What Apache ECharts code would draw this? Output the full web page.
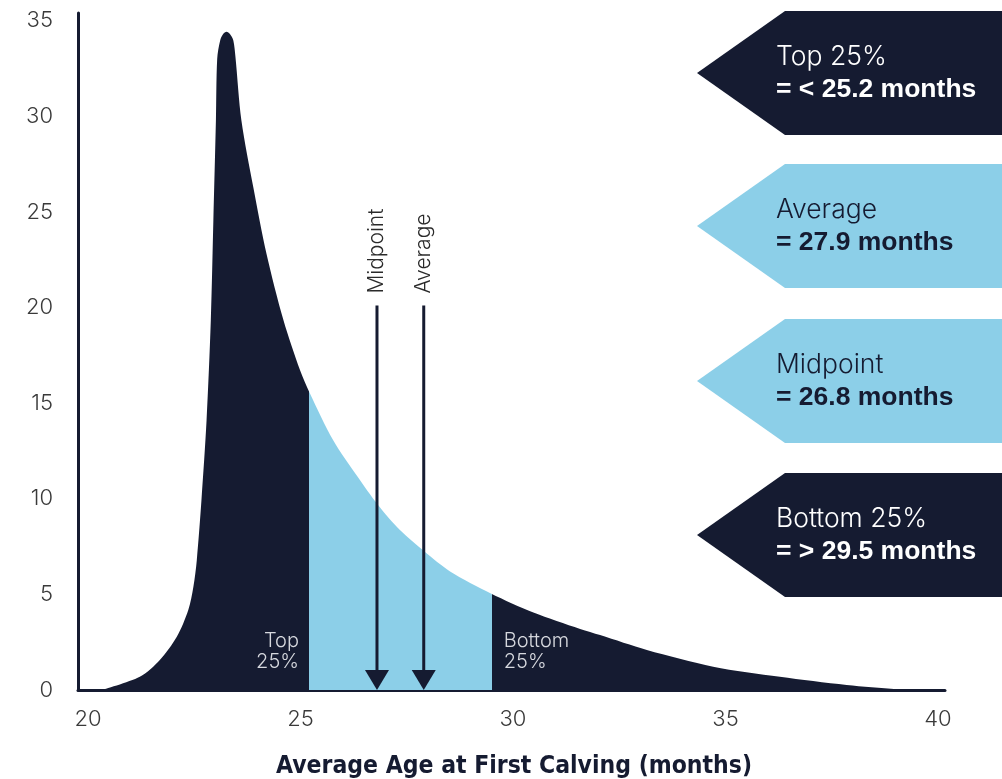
<!DOCTYPE html>
<html>
<head>
<meta charset="utf-8">
<script src="https://cdn.jsdelivr.net/npm/echarts@6/dist/echarts.min.js"></script>
<style>
html,body{margin:0;padding:0;background:#fff;}
#chart{width:1002px;height:779px;}
</style>
</head>
<body>
<div id="chart"></div>
<script>
// ---- data ----
const ageMonths = [20.32, 21.22, 21.69, 22.09, 22.36, 22.48, 22.56, 22.67, 22.79, 22.89, 22.95, 23.01, 23.04, 23.11, 23.18, 23.26, 23.34, 23.42, 23.47, 23.61, 23.89, 24.20, 24.60, 24.99, 25.22, 25.77, 26.32, 26.83, 27.34, 27.91, 28.52, 29.48, 30.48, 31.58, 32.05, 33.15, 34.71, 36.28, 37.85, 39.03, 39.6];
const frequency = [0, 0.69, 1.57, 2.78, 4.18, 5.40, 6.79, 9.93, 14.10, 19.33, 24.55, 29.78, 33.0, 33.96, 34.3, 34.42, 34.3, 33.96, 33.1, 29.78, 26.29, 22.81, 19.33, 16.72, 15.52, 13.06, 11.23, 9.66, 8.36, 7.25, 6.2, 5.05, 4.05, 3.19, 2.87, 2.09, 1.22, 0.69, 0.26, 0.04, 0];
const top25Cut = 25.2;
const bottom25Cut = 29.5;
const markerNames = ['Midpoint', 'Average'];
const markerValues = [26.8, 27.9];
const markerTop = 20.1;
const xTickLabels = [20, 25, 30, 35, 40];
const yTickLabels = [0, 5, 10, 15, 20, 25, 30, 35];
const bandLabels = ['Top\n25%', 'Bottom\n25%'];
const boxTitles = ['Top 25%', 'Average', 'Midpoint', 'Bottom 25%'];
const boxValues = ['= < 25.2 months', '= 27.9 months', '= 26.8 months', '= > 29.5 months'];
const boxDark = [true, false, false, true];
const xAxisTitle = 'Average Age at First Calving (months)';

const NAVY = '#151b31';
const BLUE = '#8ccfe8';
const LIGHT_FONT = 'Inter, "Open Sans", "Liberation Sans", sans-serif';
const BOLD_FONT = '"Liberation Sans", Arial, sans-serif';

const curve = ageMonths.map((x, i) => [x, frequency[i]]);

// annotation boxes (pentagon arrows on the right)
const boxTops = [11, 164, 319, 473];
const boxH = 124;
const graphics = [];
boxTops.forEach((t, i) => {
  const c = t + boxH / 2;
  graphics.push({
    type: 'polygon',
    shape: {points: [[697, c], [785, t], [1002, t], [1002, t + boxH], [785, t + boxH]]},
    style: {fill: boxDark[i] ? NAVY : BLUE}
  });
  graphics.push({
    type: 'text', x: 776, y: c - 16,
    style: {text: boxTitles[i], fill: boxDark[i] ? '#ffffff' : NAVY, font: '300 26.5px ' + LIGHT_FONT, verticalAlign: 'middle', align: 'left'}
  });
  graphics.push({
    type: 'text', x: 776, y: c + 17,
    style: {text: boxValues[i], fill: boxDark[i] ? '#ffffff' : NAVY, font: 'bold 26.5px ' + BOLD_FONT, verticalAlign: 'middle', align: 'left'}
  });
});

const chart = echarts.init(document.getElementById('chart'), null, {renderer: 'canvas'});
chart.setOption({
  backgroundColor: '#ffffff',
  animation: false,
  title: {
    text: xAxisTitle,
    left: 509, top: 749, textAlign: 'center',
    textStyle: {fontFamily: '"Liberation Sans Narrow", "DejaVu Sans Condensed", sans-serif', fontWeight: 'bold', fontSize: 24.5, color: NAVY}
  },
  grid: {left: 78, right: 57, top: 13, bottom: 89, containLabel: false},
  xAxis: {
    type: 'value', min: 19.765, max: 40.165,
    splitLine: {show: false},
    axisLine: {show: true, lineStyle: {color: NAVY, width: 3}},
    axisTick: {show: false},
    axisLabel: {customValues: xTickLabels, margin: 18, fontSize: 22, color: '#3a3a3a', fontFamily: LIGHT_FONT, fontWeight: 300}
  },
  yAxis: {
    type: 'value', min: 0, max: 35.4,
    splitLine: {show: false},
    axisLine: {show: true, onZero: false, lineStyle: {color: NAVY, width: 3}},
    axisTick: {show: false},
    axisLabel: {customValues: yTickLabels, margin: 25, fontSize: 22, color: '#3a3a3a', fontFamily: LIGHT_FONT, fontWeight: 300}
  },
  visualMap: {
    type: 'piecewise', show: false, dimension: 0, seriesIndex: 0,
    pieces: [
      {lt: top25Cut, color: NAVY},
      {gte: top25Cut, lte: bottom25Cut, color: BLUE},
      {gt: bottom25Cut, color: NAVY}
    ]
  },
  graphic: graphics,
  series: [
    {
      type: 'line', data: curve, smooth: 0.3, showSymbol: false, silent: true,
      lineStyle: {width: 0},
      areaStyle: {opacity: 1},
      z: 1
    },
    {
      type: 'custom', silent: true, z: 5,
      data: markerValues.map((v, i) => [v, markerTop, i]),
      renderItem: function (params, api) {
        const p0 = api.coord([api.value(0), api.value(1)]);
        const p1 = api.coord([api.value(0), 0]);
        const name = markerNames[api.value(2)];
        return {
          type: 'group',
          children: [
            {type: 'line', shape: {x1: p0[0], y1: p0[1], x2: p1[0], y2: p1[1] - 18}, style: {stroke: NAVY, lineWidth: 3}},
            {type: 'polygon', shape: {points: [[p1[0] - 12, p1[1] - 20], [p1[0] + 12, p1[1] - 20], [p1[0], p1[1]]]}, style: {fill: NAVY}},
            {type: 'text', x: p0[0], y: p0[1] - 12, rotation: Math.PI / 2,
              style: {text: name, fill: '#2a2a2a', font: '300 21px ' + LIGHT_FONT, align: 'left', verticalAlign: 'middle'}}
          ]
        };
      }
    },
    {
      type: 'custom', silent: true, z: 5,
      data: [[top25Cut, 0, 0], [bottom25Cut, 0, 1]],
      renderItem: function (params, api) {
        const p = api.coord([api.value(0), api.value(1)]);
        const isTop = api.value(2) === 0;
        return {
          type: 'text',
          x: isTop ? p[0] - 10 : p[0] + 12,
          y: p[1] - 39,
          style: {text: bandLabels[api.value(2)], fill: '#d6d8de', font: '300 20px ' + LIGHT_FONT,
            align: isTop ? 'right' : 'left', verticalAlign: 'middle', lineHeight: 21}
        };
      }
    }
  ]
});
</script>
</body>
</html>
